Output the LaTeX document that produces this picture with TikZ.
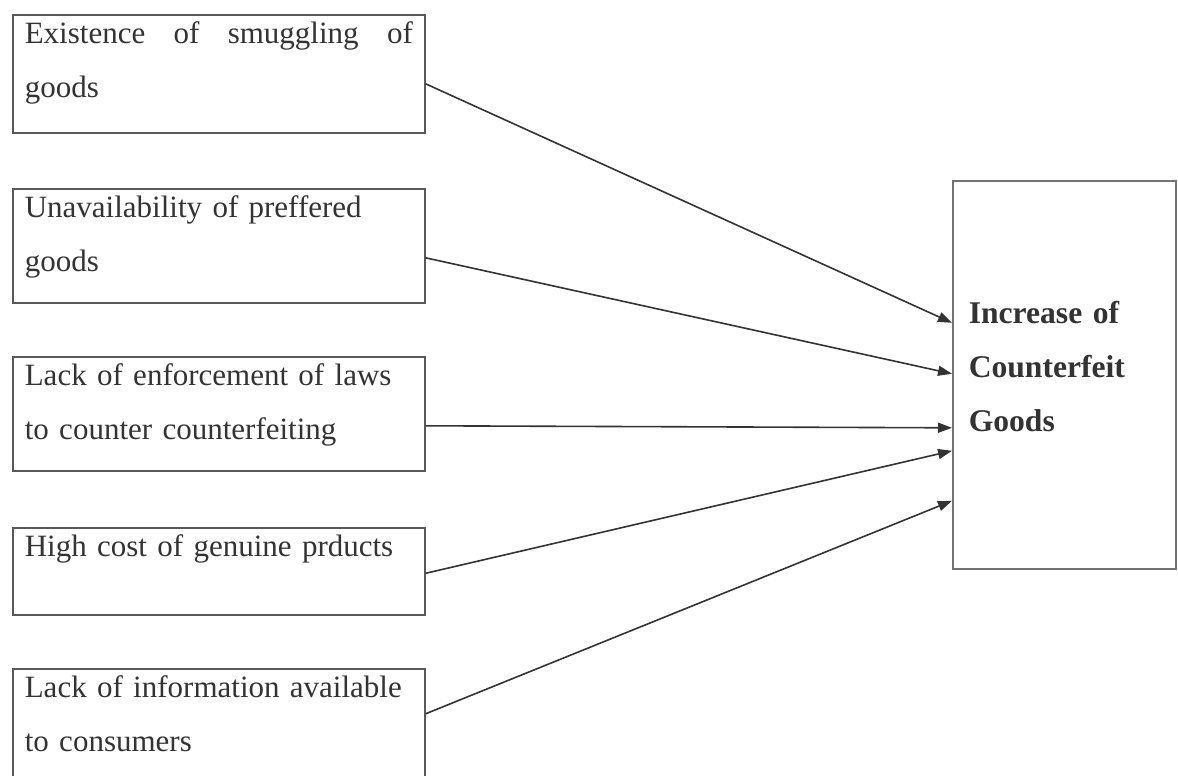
\documentclass[tikz,border=0pt]{standalone}
\usepackage{fontspec}
\setmainfont{Liberation Serif}
\usetikzlibrary{arrows.meta}
\hyphenpenalty=10000

\begin{document}
\begin{tikzpicture}[x=1pt, y=-1pt, arrows={-Triangle[length=7pt,width=5pt]},
	cause/.style={draw=black!65, line width=0.8pt, anchor=north west,
		text width=194pt, align=left, inner xsep=6pt, inner ysep=3.5pt,
		text height=11pt, text=black!80, font=\fontsize{15.5}{27}\selectfont},
	effect/.style={draw=black!55, line width=0.8pt, anchor=north west,
		minimum width=111.5pt, minimum height=194pt, text width=95.5pt,
		align=left, inner xsep=8pt, text height=11pt, text depth=62pt,
		text=black!80, font=\fontsize{15.8}{27}\selectfont\bfseries}]
% PAGE
	\clip (0,0) rectangle (589,388);

% CAUSES
	\node [cause, text depth=41pt] (cause1) at (6,7)
	{Existence\hfill of\hfill smuggling\hfill of\\goods};
	\node [cause, text depth=39pt] (cause2) at (6,94)
	{Unavailability of preffered\\goods};
	\node [cause, text depth=39pt] (cause3) at (6,178)
	{Lack of enforcement of laws\\to counter counterfeiting};
	\node [cause, text depth=25.5pt] (cause4) at (6,263.5)
	{High cost of genuine prducts};
	\node [cause, text depth=40pt] (cause5) at (6,334)
	{Lack of information available\\to consumers};

% EFFECT
	\node [effect] (increase) at (476,90)
	{Increase of\\Counterfeit\\Goods};

% ARROWS
	\draw [black!80 , line width=0.8pt] ([yshift=-5pt]cause1.east) -- ([yshift=26pt]increase.west);
	\draw [black!80 , line width=0.8pt] ([yshift=-6pt]cause2.east) -- ([yshift=0.5pt]increase.west);
	\draw [black!80 , line width=0.8pt] ([yshift=-6pt]cause3.east) -- ([yshift=-26.5pt]increase.west);
	\draw [black!80 , line width=0.8pt] ([yshift=-1pt]cause4.east) -- ([yshift=-38pt]increase.west);
	\draw [black!80 , line width=0.8pt] ([yshift=6.5pt]cause5.east) -- ([yshift=-63pt]increase.west);

\end{tikzpicture}
\end{document}
